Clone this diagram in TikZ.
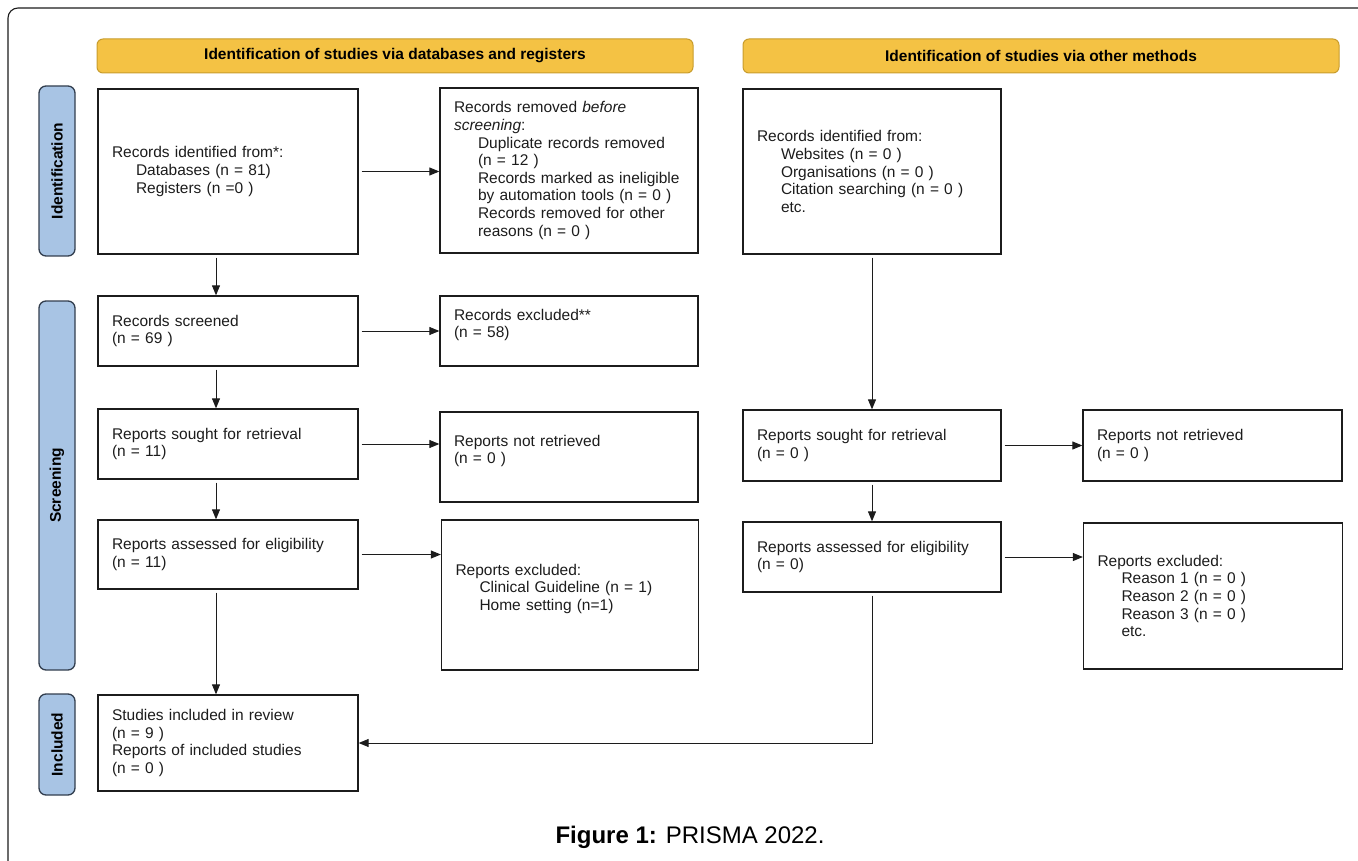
\documentclass[tikz,border=0pt]{standalone}
\usepackage{fontspec}
\setmainfont{Liberation Sans}
\usetikzlibrary{positioning,arrows.meta,calc}
\definecolor{hdr}{RGB}{244,194,68}
\definecolor{hdrline}{RGB}{200,156,44}
\definecolor{phs}{RGB}{168,196,228}
\definecolor{phsline}{RGB}{50,62,78}
\definecolor{ink}{RGB}{28,28,28}
\newcommand{\ind}{\hspace*{24pt}}

\begin{document}
\begin{tikzpicture}[x=1pt, y=-1pt,
box/.style = {draw=ink, line width=1.3pt, align=left, inner xsep=14pt, inner ysep=3pt,
              font=\fontsize{15.5}{17.6}\selectfont, text=ink},
header/.style = {draw=hdrline, fill=hdr, line width=1pt, rounded corners=6pt,
                 minimum height=34pt, font=\bfseries\fontsize{15.5}{17.6}\selectfont},
phase/.style = {draw=phsline, fill=phs, line width=1.3pt, rounded corners=7pt, rotate=90,
                minimum height=36pt, font=\bfseries\fontsize{15.5}{17.6}\selectfont},
arr/.style = {draw=ink, line width=1pt, shorten <=3pt, -{Triangle[length=10pt,width=8pt]}}
                    ]
\useasboundingbox (0,0) rectangle (1358,861);
% page frame
\draw[ink, line width=1.1pt, rounded corners=10pt] (8,861) -- (8,8) -- (1358,8);

% headers
\node[header, minimum width=596pt] (hdrDb) at (395,56) {Identification of studies via databases and registers};
\node[header, minimum width=596pt] (hdrOth) at (1041,56) {Identification of studies via other methods};

% phases
\foreach \lbl/\ya/\yb in {Identification/86/256, Screening/301/670, Included/694/795}
    \node[phase, minimum width=\yb-\ya] (ph-\lbl) at ({57},{(\ya+\yb)/2}) {\lbl};

% databases and registers
\node[box, text width=232pt, minimum height=165pt] (recId) at (228,171.5)
    {Records identified from*:\\ \ind Databases (n = 81)\\ \ind Registers (n =0 )};
\node[box, text width=230pt, minimum height=165pt] (recRem) at (569,170.5)
    {Records removed \textit{before}\\ \textit{screening}:\\ \ind Duplicate records removed\\
     \ind (n = 12 )\\ \ind Records marked as ineligible\\ \ind by automation tools (n = 0 )\\
     \ind Records removed for other\\ \ind reasons (n = 0 )};
\node[box, text width=232pt, minimum height=70pt] (recScr) at (228,331)
    {Records screened\\ (n = 69 )};
\node[box, text width=230pt, minimum height=70pt] (recExc) at (569,331)
    {Records excluded**\\ (n = 58)\\[-2pt]~};
\node[box, text width=232pt, minimum height=70pt] (srtDb) at (228,444)
    {Reports sought for retrieval\\ (n = 11)};
\node[box, text width=230pt, minimum height=90pt] (notDb) at (569,457)
    {Reports not retrieved\\ (n = 0 )\\[-2pt]~};
\node[box, text width=232pt, minimum height=69pt] (asmDb) at (228,554.5)
    {Reports assessed for eligibility\\ (n = 11)};
\node[box, text width=229pt, minimum height=150pt] (excDb) at (570,595)
    {Reports excluded:\\ \ind Clinical Guideline (n = 1)\\ \ind Home setting (n=1)\\[-2pt]~};
\node[box, text width=232pt, minimum height=96pt] (incl) at (228,743)
    {Studies included in review\\ (n = 9 )\\ Reports of included studies\\ (n = 0 )};

% other methods
\node[box, text width=230pt, minimum height=165pt] (recOth) at (872,171.5)
    {Records identified from:\\ \ind Websites (n = 0 )\\ \ind Organisations (n = 0 )\\
     \ind Citation searching (n = 0 )\\ \ind etc.};
\node[box, text width=230pt, minimum height=71pt] (srtOth) at (872,445.5)
    {Reports sought for retrieval\\ (n = 0 )};
\node[box, text width=231pt, minimum height=71pt] (notOth) at (1212.5,445.5)
    {Reports not retrieved\\ (n = 0 )};
\node[box, text width=230pt, minimum height=70pt] (asmOth) at (872,557)
    {Reports assessed for eligibility\\ (n = 0)};
\node[box, text width=231pt, minimum height=146pt] (excOth) at (1213,596)
    {Reports excluded:\\ \ind Reason 1 (n = 0 )\\ \ind Reason 2 (n = 0 )\\
     \ind Reason 3 (n = 0 )\\ \ind etc.};

% connectors
\coordinate (colA) at (216,0);
\draw[arr] (recId.south -| colA) -- (recScr.north -| colA);
\draw[arr] (recScr.south -| colA) -- (srtDb.north -| colA);
\draw[arr] (srtDb.south -| colA) -- (asmDb.north -| colA);
\draw[arr] (asmDb.south -| colA) -- (incl.north -| colA);
\draw[arr] (recId.east) -- (recRem.west |- recId.east);
\draw[arr] (recScr.east) -- (recExc.west |- recScr.east);
\draw[arr] (srtDb.east) -- (notDb.west |- srtDb.east);
\draw[arr] (asmDb.east) -- (excDb.west |- asmDb.east);
\draw[arr] (recOth) -- (srtOth);
\draw[arr] (srtOth) -- (asmOth);
\draw[arr] (srtOth) -- (notOth);
\draw[arr] (asmOth.east) -- (excOth.west |- asmOth.east);
\draw[arr] (asmOth.south) |- (incl.east);

\node[font=\fontsize{24}{28}\selectfont, anchor=base] (cap) at (690,843) {\textbf{Figure 1:} PRISMA 2022.};
\end{tikzpicture}
\end{document}
